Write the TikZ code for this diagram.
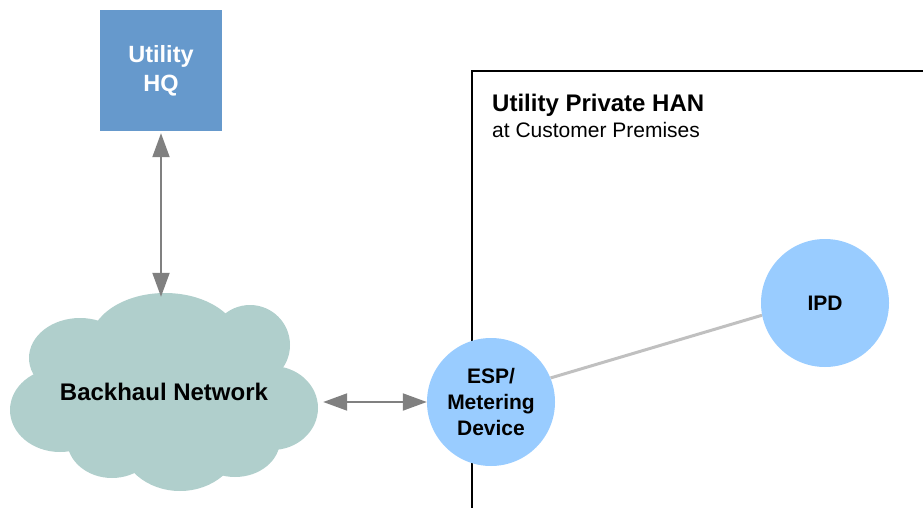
\documentclass[tikz,border=0pt]{standalone}
\usepackage{fontspec}
\setmainfont{Liberation Sans}
\usetikzlibrary{arrows.meta}
\usetikzlibrary{positioning}
\usetikzlibrary{backgrounds}
\definecolor{hqblue}{RGB}{102,153,204}
\definecolor{cloudgreen}{RGB}{176,207,204}
\definecolor{devblue}{RGB}{153,204,255}
\definecolor{arrowgray}{RGB}{128,128,128}
\definecolor{linkgray}{RGB}{192,192,192}
\tikzset{>={Triangle[length=24pt,width=17pt]}, x=1pt, y=-1pt}
\tikzstyle{office} = [fill=hqblue, rectangle, minimum width=122pt, minimum height=121pt, text=white, font=\fontsize{23.5}{29}\selectfont\bfseries, align=center]
\tikzstyle{device} = [fill=devblue, circle, minimum size=128pt, inner sep=0pt, align=center, font=\fontsize{21}{26}\selectfont\bfseries]
\tikzstyle{puff} = [fill=cloudgreen]
\tikzstyle{net} = [rectangle, minimum width=308pt, minimum height=198pt, font=\fontsize{24}{29}\selectfont\bfseries]
\tikzstyle{bidir} = [<->, draw=arrowgray, line width=2pt]
\tikzstyle{link} = [draw=linkgray, line width=3pt]
\tikzstyle{frame} = [draw=black, line width=1.5pt]
\tikzstyle{title} = [anchor=base west, inner sep=0pt, font=\fontsize{24}{29}\selectfont\bfseries]
\tikzstyle{subtitle} = [anchor=base west, inner sep=0pt, font=\fontsize{21}{26}\selectfont]

\begin{document}
\begin{tikzpicture}
    \useasboundingbox (0,0) rectangle (923,508);

    % customer premises boundary
    \coordinate (hanbl) at (472,508);
    \coordinate (hantr) at (923,71);
    \draw [frame] (hanbl) |- (hantr);
    \node [title] (han) at (492,112) {Utility Private HAN};
    \node [subtitle] (premises) at ([yshift=-26pt]han.base west) {at Customer Premises};

    % cloud made of puffs
    \fill [puff] (60,410) ellipse [x radius=50pt, y radius=42pt];
    \fill [puff] (80,358) ellipse [x radius=51pt, y radius=40pt];
    \fill [puff] (165,343) ellipse [x radius=75pt, y radius=50pt];
    \fill [puff] (250,345) ellipse [x radius=40pt, y radius=40pt];
    \fill [puff] (272,408) ellipse [x radius=46pt, y radius=42pt];
    \fill [puff] (235,440) ellipse [x radius=45pt, y radius=37pt];
    \fill [puff] (180,440) ellipse [x radius=60pt, y radius=51pt];
    \fill [puff] (112,440) ellipse [x radius=45pt, y radius=38pt];
    \fill [puff] (165,395) ellipse [x radius=120pt, y radius=60pt];
    \node [net] (backhaul) at (164,392) {Backhaul Network};

    \node [office] (hq) at (161,70.5) {Utility\\HQ};
    \node [device] (esp) at (491,402) {ESP/\\Metering\\Device};
    \node [device] (ipd) at (825,303) {IPD};

    \begin{pgfonlayer}{background}
        \draw [link] (esp.22) -- (ipd.191);
    \end{pgfonlayer}

    \draw [bidir, shorten <=2pt, shorten >=-4pt] (hq.south) -- (hq.south |- backhaul.north);
    \draw [bidir, shorten <=5pt] (backhaul.east |- esp.west) -- (esp.west);
\end{tikzpicture}
\end{document}
